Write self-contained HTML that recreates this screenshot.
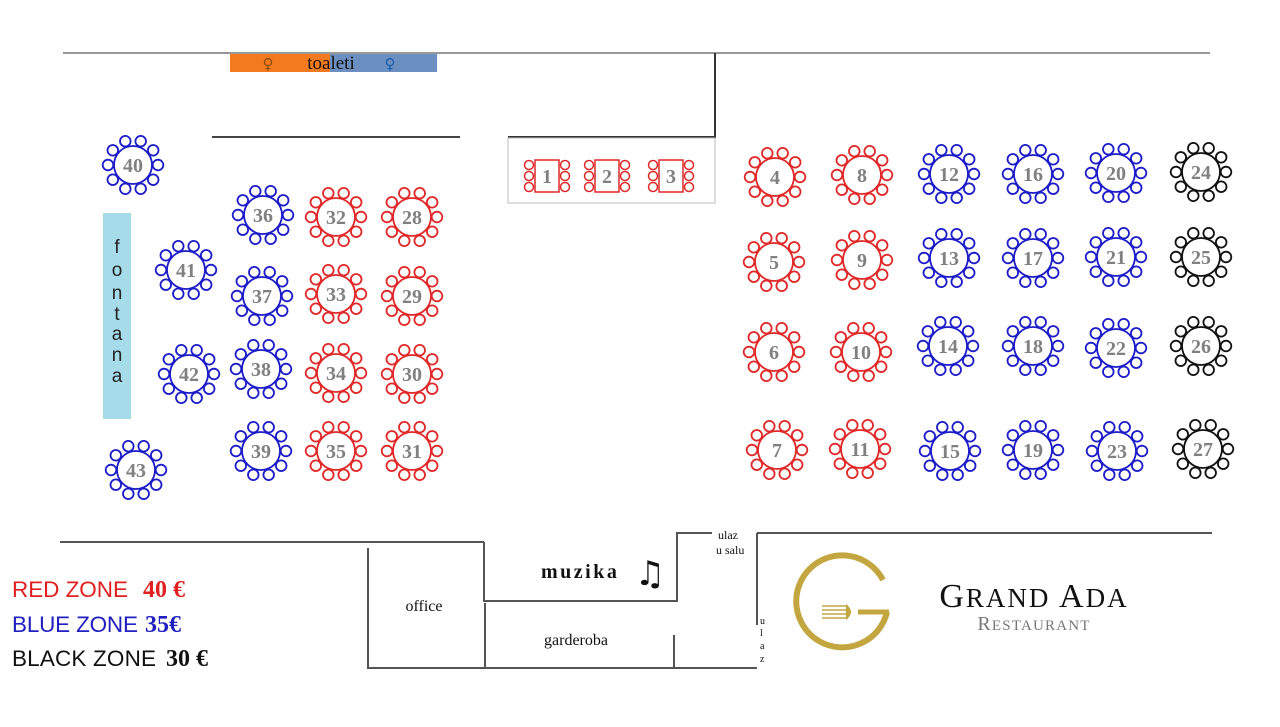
<!DOCTYPE html>
<html><head><meta charset="utf-8"><style>
html,body{margin:0;padding:0;background:#fff;width:1280px;height:727px;overflow:hidden}
svg{display:block}
.n{font-family:"Liberation Serif",serif;font-weight:bold;font-size:20px;fill:#808080;text-anchor:middle}
</style></head><body>
<svg width="1280" height="727" viewBox="0 0 1280 727" xmlns="http://www.w3.org/2000/svg">
<defs>
<g id="t" fill="#fff" stroke-width="1.8">
<circle r="19"/>
<circle cx="7.7" cy="-23.8" r="5.3"/><circle cx="-7.7" cy="-23.8" r="5.3"/>
<circle cx="20.2" cy="-14.7" r="5.3"/><circle cx="-20.2" cy="-14.7" r="5.3"/>
<circle cx="25" cy="0" r="5.3"/><circle cx="-25" cy="0" r="5.3"/>
<circle cx="20.2" cy="14.7" r="5.3"/><circle cx="-20.2" cy="14.7" r="5.3"/>
<circle cx="7.7" cy="23.8" r="5.3"/><circle cx="-7.7" cy="23.8" r="5.3"/>
</g>
<g id="r" fill="#fff" stroke="#e02828" stroke-width="1.5">
<rect x="-12" y="-16" width="24" height="32"/>
<circle cx="-18" cy="-11" r="4.5"/><circle cx="-18" cy="0" r="4.5"/><circle cx="-18" cy="11" r="4.5"/>
<circle cx="18" cy="-11" r="4.5"/><circle cx="18" cy="0" r="4.5"/><circle cx="18" cy="11" r="4.5"/>
</g>
</defs>
<g stroke="#555" stroke-width="2" fill="none">
<line x1="63" y1="53" x2="1210" y2="53" stroke="#999"/>
<polyline points="508,137 715,137 715,53" stroke="#333"/>
<line x1="212" y1="137" x2="460" y2="137" stroke="#444"/>
<line x1="60" y1="542" x2="484" y2="542"/>
<polyline points="368,548 368,668 484,668"/>
<polyline points="484,542 484,601 677,601 677,533 712,533"/>
<line x1="757" y1="533" x2="1212" y2="533"/>
<line x1="757" y1="533" x2="757" y2="625"/>
<polyline points="485,603 485,668 757,668"/>
<line x1="674" y1="635" x2="674" y2="668"/>
</g>
<rect x="508" y="138" width="207" height="65" fill="none" stroke="#bbb" stroke-width="1"/>
<rect x="230" y="54" width="100" height="18" fill="#f47a20"/>
<rect x="330" y="54" width="107" height="18" fill="#6b8fc0"/>
<text x="268" y="69" font-family="DejaVu Sans" font-size="15" fill="#8a4a10" text-anchor="middle">♀</text>
<text x="390" y="69" font-family="DejaVu Sans" font-size="15" fill="#1b5ab0" text-anchor="middle">♀</text>
<text x="331" y="69" font-family="Liberation Serif,serif" font-size="19" fill="#111" text-anchor="middle">toaleti</text>
<rect x="103" y="213" width="28" height="206" fill="#a6dcea"/>
<text font-family="Liberation Sans,sans-serif" font-size="19" fill="#222" text-anchor="middle">
<tspan x="117" y="253">f</tspan><tspan x="117" y="276">o</tspan><tspan x="117" y="299">n</tspan><tspan x="117" y="320">t</tspan><tspan x="117" y="340">a</tspan><tspan x="117" y="361">n</tspan><tspan x="117" y="382">a</tspan></text>
<use href="#r" x="547" y="176"/><use href="#r" x="607" y="176"/><use href="#r" x="671" y="176"/>
<text class="n" x="547" y="183">1</text><text class="n" x="607" y="183">2</text><text class="n" x="671" y="183">3</text>
<g stroke="#e02828">
<use href="#t" x="775" y="177"/><use href="#t" x="862" y="175"/><use href="#t" x="774" y="262"/><use href="#t" x="862" y="260"/>
<use href="#t" x="774" y="352"/><use href="#t" x="861" y="352"/><use href="#t" x="777" y="450"/><use href="#t" x="860" y="449"/>
<use href="#t" x="336" y="217"/><use href="#t" x="336" y="294"/><use href="#t" x="336" y="373"/><use href="#t" x="336" y="451"/>
<use href="#t" x="412" y="217"/><use href="#t" x="412" y="296"/><use href="#t" x="412" y="374"/><use href="#t" x="412" y="451"/>
</g>
<g stroke="#1c1cc8">
<use href="#t" x="949" y="174"/><use href="#t" x="1033" y="174"/><use href="#t" x="1116" y="173"/>
<use href="#t" x="949" y="258"/><use href="#t" x="1033" y="258"/><use href="#t" x="1116" y="257"/>
<use href="#t" x="948" y="346"/><use href="#t" x="1033" y="346"/><use href="#t" x="1116" y="348"/>
<use href="#t" x="950" y="451"/><use href="#t" x="1033" y="450"/><use href="#t" x="1117" y="451"/>
<use href="#t" x="133" y="165"/><use href="#t" x="186" y="270"/><use href="#t" x="189" y="374"/><use href="#t" x="136" y="470"/>
<use href="#t" x="263" y="215"/><use href="#t" x="262" y="296"/><use href="#t" x="261" y="369"/><use href="#t" x="261" y="451"/>
</g>
<g stroke="#111">
<use href="#t" x="1201" y="172"/><use href="#t" x="1201" y="257"/><use href="#t" x="1201" y="346"/><use href="#t" x="1203" y="449"/>
</g>
<g>
<text class="n" x="775" y="184">4</text><text class="n" x="862" y="182">8</text><text class="n" x="774" y="269">5</text><text class="n" x="862" y="267">9</text>
<text class="n" x="774" y="359">6</text><text class="n" x="861" y="359">10</text><text class="n" x="777" y="457">7</text><text class="n" x="860" y="456">11</text>
<text class="n" x="336" y="224">32</text><text class="n" x="336" y="301">33</text><text class="n" x="336" y="380">34</text><text class="n" x="336" y="458">35</text>
<text class="n" x="412" y="224">28</text><text class="n" x="412" y="303">29</text><text class="n" x="412" y="381">30</text><text class="n" x="412" y="458">31</text>
<text class="n" x="949" y="181">12</text><text class="n" x="1033" y="181">16</text><text class="n" x="1116" y="180">20</text>
<text class="n" x="949" y="265">13</text><text class="n" x="1033" y="265">17</text><text class="n" x="1116" y="264">21</text>
<text class="n" x="948" y="353">14</text><text class="n" x="1033" y="353">18</text><text class="n" x="1116" y="355">22</text>
<text class="n" x="950" y="458">15</text><text class="n" x="1033" y="457">19</text><text class="n" x="1117" y="458">23</text>
<text class="n" x="133" y="172">40</text><text class="n" x="186" y="277">41</text><text class="n" x="189" y="381">42</text><text class="n" x="136" y="477">43</text>
<text class="n" x="263" y="222">36</text><text class="n" x="262" y="303">37</text><text class="n" x="261" y="376">38</text><text class="n" x="261" y="458">39</text>
<text class="n" x="1201" y="179">24</text><text class="n" x="1201" y="264">25</text><text class="n" x="1201" y="353">26</text><text class="n" x="1203" y="456">27</text>
</g>
<g font-family="Liberation Serif,serif" fill="#111">
<text x="424" y="611" font-size="16" text-anchor="middle">office</text>
<text x="541" y="578" font-size="20" font-weight="bold" letter-spacing="2.5">muzika</text>
<text x="650" y="585" font-size="34" font-family="DejaVu Sans" text-anchor="middle">♫</text>
<text x="576" y="645" font-size="16" text-anchor="middle">garderoba</text>
<text x="718" y="539" font-size="12">ulaz</text>
<text x="716" y="554" font-size="12">u salu</text>
<text font-size="10"><tspan x="760" y="624">u</tspan><tspan x="760" y="636">l</tspan><tspan x="760" y="649">a</tspan><tspan x="760" y="662">z</tspan></text>
</g>
<path d="M883,580 A46,46 0 1 0 887,612" fill="none" stroke="#c4a640" stroke-width="6"/>
<line x1="858" y1="612" x2="889" y2="612" stroke="#c4a640" stroke-width="5"/>
<g stroke="#c4a640" stroke-width="1.5"><line x1="822" y1="606" x2="848" y2="606"/><line x1="822" y1="610" x2="848" y2="610"/><line x1="822" y1="614" x2="848" y2="614"/><line x1="822" y1="618" x2="848" y2="618"/></g>
<path d="M846,604 Q856,612 846,620 Z" fill="#c4a640"/>
<text x="1034" y="607" font-family="Liberation Serif,serif" font-size="34" fill="#111" text-anchor="middle" letter-spacing="2">G<tspan font-size="27">RAND</tspan> A<tspan font-size="27">DA</tspan></text>
<text x="1034" y="630" font-family="Liberation Serif,serif" font-size="20" fill="#777" text-anchor="middle" letter-spacing="1.2">R<tspan font-size="15">ESTAURANT</tspan></text>
<g font-family="Liberation Sans,sans-serif" font-size="22.5">
<text x="12" y="597" fill="#e02020" textLength="116">RED ZONE</text>
<text x="143" y="597" fill="#e02020" font-family="Liberation Serif,serif" font-weight="bold" font-size="24">40 €</text>
<text x="12" y="632" fill="#2020c0" textLength="126">BLUE ZONE</text>
<text x="145" y="632" fill="#2020c0" font-family="Liberation Serif,serif" font-weight="bold" font-size="24">35€</text>
<text x="12" y="666" fill="#111" textLength="144">BLACK ZONE</text>
<text x="166" y="666" fill="#111" font-family="Liberation Serif,serif" font-weight="bold" font-size="24">30 €</text>
</g>
</svg>
</body></html>
